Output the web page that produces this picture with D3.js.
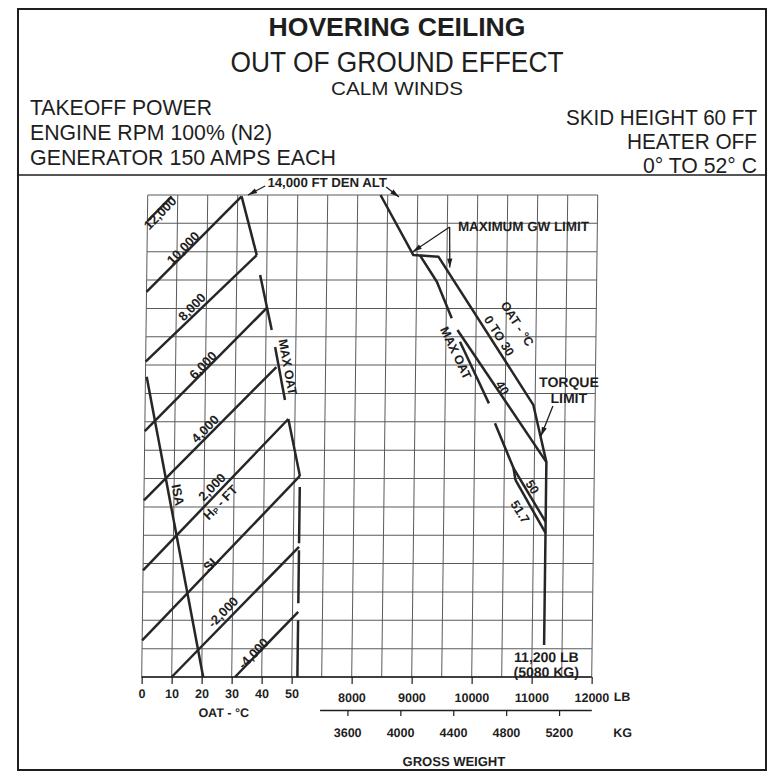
<!DOCTYPE html>
<html>
<head>
<meta charset="utf-8">
<script src="https://cdn.jsdelivr.net/npm/d3@7"></script>
<style>
  html, body { margin: 0; padding: 0; background: #fff; }
  svg { display: block; font-family: "Liberation Sans", Arial, sans-serif; }
</style>
</head>
<body>
<svg id="chart" width="769" height="777"></svg>
<script>
// header texts
const titleLines = ['HOVERING CEILING', 'OUT OF GROUND EFFECT', 'CALM WINDS']
const leftNotes = ['TAKEOFF POWER', 'ENGINE RPM 100% (N2)', 'GENERATOR 150 AMPS EACH']
const rightNotes = ['SKID HEIGHT 60 FT', 'HEATER OFF', '0° TO 52° C']

// axis ticks
const oatTicks = [0, 10, 20, 30, 40, 50]
const lbTicks = [8000, 9000, 10000, 11000, 12000]
const kgTicks = [3600, 4000, 4400, 4800, 5200]

// left panel, points are [OAT °C, density altitude ft]
const hpLabels = ['12,000', '10,000', '8,000', '6,000', '4,000', '2,000', 'SL', '-2,000', '-4,000']
const hpStart = [[0, 13080], [0, 10580], [0, 8120], [0, 5670], [0, 3230], [0, 760], [0, -1710], [10, -3000], [31.1, -3000]]
const hpEnd = [[8, 13950], [31.3, 13950], [36.6, 11880], [40.1, 10010], [43.6, 7930], [47.8, 6100], [51.9, 4090], [51.9, 1590], [51.9, -700]]
const hpLabelPos = [[4.2, 13365], [12, 12130], [15.2, 10050], [19.1, 8000], [20.1, 5750], [22.6, 3700], [22.8, 1020], [26.8, -710], [37.1, -2170]]
const isaLine = [[0.4, 7590], [20.5, -3000]]
// max OAT boundary, drawn broken as in the chart
const maxOatLeft = [
  [[31.3, 13950], [36.6, 11880]],
  [[37.8, 11180], [41.9, 9240]],
  [[43.1, 8640], [46.6, 6770]],
  [[47.8, 6100], [51.9, 4090]],
  [[51.9, 3700], [51.9, 1720]],
  [[51.9, 1470], [51.9, -400]],
  [[51.9, -1000], [51.9, -3000]]
]

// right panel, points are [gross weight lb, density altitude ft]
const oat0to30 = [[8380, 14000], [8940, 11880], [9360, 11820], [10970, 6600], [11200, 4580], [11200, -1870]]
const maxOatRight = [
  [[9050, 11870], [9337, 10940], [9593, 9650]],
  [[9735, 8825], [10230, 6650]],
  [[10335, 5950], [10653, 4370], [10688, 3950]]
]
const oat40 = [[9690, 9240], [11200, 4580]]
const oat50 = [[10653, 4370], [11200, 2470]]
const oat517 = [[10688, 3950], [11200, 2080]]

const svg = d3.select('#chart')
const ink = '#1e1e1e'

/** set up scales (grid is shared by both panels) */
const gridLeft = 141.7, gridRight = 591.7, gridTop = 195, gridBottom = 677

const oat = d3.scaleLinear().domain([0, 150]).range([gridLeft, gridRight])
const gw = d3.scaleLinear().domain([4500, 12000]).range([gridLeft, gridRight])
const da = d3.scaleLinear().domain([-3000, 14000]).range([gridBottom, gridTop])
const kgStart = gw.invert(320) / 2.20462
const kg = d3.scaleLinear().domain([kgStart, 12000 / 2.20462]).range([gw(kgStart * 2.20462), gw(12000)])

// frame
svg.append('rect')
  .attr('x', 18).attr('y', 9)
  .attr('width', 748).attr('height', 761)
  .style('fill', 'none').style('stroke', ink).style('stroke-width', 2)

svg.append('line')
  .attr('x1', 18).attr('x2', 766).attr('y1', 175).attr('y2', 175)
  .style('stroke', ink).style('stroke-width', 1.5)

// header
const titleStyle = [
  { y: 36, size: 25, weight: 'bold', len: 257 },
  { y: 72, size: 30, weight: 'normal', len: 333 },
  { y: 95, size: 19, weight: 'normal', len: 132 }
]
titleLines.forEach(function (t, i) {
  svg.append('text')
    .attr('x', 397).attr('y', titleStyle[i].y)
    .attr('text-anchor', 'middle')
    .attr('font-size', titleStyle[i].size)
    .attr('font-weight', titleStyle[i].weight)
    .attr('textLength', titleStyle[i].len)
    .attr('lengthAdjust', 'spacingAndGlyphs')
    .style('fill', ink)
    .text(t)
})

const leftLen = [182, 242, 306]
leftNotes.forEach(function (t, i) {
  svg.append('text')
    .attr('x', 30).attr('y', 115 + i * 25)
    .attr('font-size', 22)
    .attr('textLength', leftLen[i])
    .attr('lengthAdjust', 'spacingAndGlyphs')
    .style('fill', ink)
    .text(t)
})

const rightLen = [191, 130, 114]
rightNotes.forEach(function (t, i) {
  svg.append('text')
    .attr('x', 757 - rightLen[i]).attr('y', 125 + i * 24)
    .attr('font-size', 22)
    .attr('textLength', rightLen[i])
    .attr('lengthAdjust', 'spacingAndGlyphs')
    .style('fill', ink)
    .text(t)
})

// the scanned chart leans a little: shear the plot so its verticals match
const plot = svg.append('g')
  .attr('transform', 'translate(' + (gridBottom * 0.0125) + ',0) skewX(' + (-Math.atan(0.0125) * 180 / Math.PI) + ')')

// grid
const grid = plot.append('g').style('stroke', '#5a5a5a').style('stroke-width', 1)
grid.selectAll('.v').data(d3.range(4500, 12001, 500)).enter().append('line')
  .attr('x1', d => gw(d)).attr('x2', d => gw(d))
  .attr('y1', gridTop).attr('y2', gridBottom)
grid.selectAll('.h').data(d3.range(-3000, 14001, 1000)).enter().append('line')
  .attr('x1', gridLeft).attr('x2', gridRight)
  .attr('y1', d => da(d)).attr('y2', d => da(d))

// axes
const axisFont = function (g) {
  g.select('.domain').remove()
  g.selectAll('.tick line').style('stroke', ink).style('stroke-width', 1.2)
  g.selectAll('.tick text')
    .style('fill', ink).attr('font-size', 12.5).attr('font-weight', 'bold')
    .attr('font-family', '"Liberation Sans", Arial, sans-serif')
}

plot.append('line')
  .attr('x1', gridLeft).attr('x2', gridRight).attr('y1', gridBottom).attr('y2', gridBottom)
  .style('stroke', ink).style('stroke-width', 1.6)

plot.append('g')
  .attr('transform', 'translate(0,' + gridBottom + ')')
  .call(d3.axisBottom(oat).tickValues(oatTicks).tickSize(7).tickPadding(5))
  .call(axisFont)

plot.append('g')
  .attr('transform', 'translate(0,' + gridBottom + ')')
  .call(d3.axisBottom(gw).tickValues(lbTicks).tickSize(7).tickPadding(9).tickFormat(d3.format('d')))
  .call(axisFont)

const kgAxis = plot.append('g')
  .attr('transform', 'translate(0,710)')
  .call(d3.axisBottom(kg).tickValues(kgTicks).tickSize(6).tickSizeOuter(0).tickPadding(12).tickFormat(d3.format('d')))
kgAxis.select('.domain').style('stroke', ink).style('stroke-width', 1.4)
kgAxis.selectAll('.tick line').style('stroke', ink).style('stroke-width', 1.2)
kgAxis.selectAll('.tick text')
  .style('fill', ink).attr('font-size', 12.5).attr('font-weight', 'bold')
  .attr('font-family', '"Liberation Sans", Arial, sans-serif')

const boldText = function (txt, x, y, size, anchor) {
  return plot.append('text')
    .attr('x', x).attr('y', y)
    .attr('text-anchor', anchor || 'middle')
    .attr('dominant-baseline', 'central')
    .attr('font-size', size || 13)
    .attr('font-weight', 'bold')
    .style('fill', ink)
    .text(txt)
}

boldText('LB', 614, 697, 12.5, 'start')
boldText('KG', 614, 733, 12.5, 'start')
boldText('OAT - °C', oat(27.5), 713, 12.5)
boldText('GROSS WEIGHT', 455, 762, 13)

// curves
const lineL = d3.line().x(d => oat(d[0])).y(d => da(d[1]))
const lineR = d3.line().x(d => gw(d[0])).y(d => da(d[1]))

const curve = function (pts, gen) {
  plot.append('path')
    .attr('d', gen(pts))
    .style('fill', 'none')
    .style('stroke', '#262626')
    .style('stroke-width', 2.5)
    .style('stroke-linejoin', 'round')
}

hpStart.forEach(function (s, i) { curve([s, hpEnd[i]], lineL) })
curve(isaLine, lineL)
maxOatLeft.forEach(function (seg) { curve(seg, lineL) })

curve(oat0to30, lineR)
maxOatRight.forEach(function (seg) { curve(seg, lineR) })
curve(oat40, lineR)
curve(oat50, lineR)
curve(oat517, lineR)

// rotated labels
const rotText = function (txt, x, y, angle, size) {
  return plot.append('text')
    .attr('transform', 'translate(' + x + ',' + y + ') rotate(' + angle + ')')
    .attr('text-anchor', 'middle')
    .attr('dominant-baseline', 'central')
    .attr('font-size', size || 13)
    .attr('font-weight', 'bold')
    .style('fill', ink)
    .text(txt)
}

hpLabels.forEach(function (t, i) {
  rotText(t, oat(hpLabelPos[i][0]), da(hpLabelPos[i][1]), -46, 13)
})

const hp = rotText('', oat(25.4), da(3170), -46, 13)
hp.append('tspan').text('H')
hp.append('tspan').attr('font-size', 8).attr('dy', 3).text('P')
hp.append('tspan').attr('dy', -3).text(' - FT')

rotText('ISA', oat(11.3), da(3420), 78.6, 13)
rotText('MAX OAT', oat(47.3), da(7930), 78.8, 12.5)

rotText('OAT - °C', gw(10682), da(9450), 57, 12.5)
rotText('0 TO 30', gw(10383), da(9026), 57, 12.5)
rotText('MAX OAT', gw(9663), da(8427), 64, 12.5)
rotText('40', gw(10445), da(7192), 57, 12.5)
rotText('50', gw(10967), da(3700), 57, 12.5)
rotText('51.7', gw(10770), da(2818), 57, 12.5)

boldText('TORQUE', gw(11560), da(7404), 14)
boldText('LIMIT', gw(11560), da(6840), 14)
boldText('11,200 LB', gw(11242), da(-2286), 14)
boldText('(5080 KG)', gw(11242), da(-2815), 14)
boldText('MAXIMUM GW LIMIT', gw(9678), da(12906), 13.4, 'start')
boldText('14,000 FT DEN ALT', 321, 183, 13.2)

// arrows
const arrow = function (x1, y1, x2, y2) {
  plot.append('line')
    .attr('x1', x1).attr('y1', y1).attr('x2', x2).attr('y2', y2)
    .style('stroke', ink).style('stroke-width', 1.3)
  const a = Math.atan2(y2 - y1, x2 - x1)
  const len = 9, w = 2.6
  const bx = x2 - len * Math.cos(a), by = y2 - len * Math.sin(a)
  plot.append('path')
    .attr('d', 'M' + x2 + ',' + y2 +
      'L' + (bx + w * Math.sin(a)) + ',' + (by - w * Math.cos(a)) +
      'L' + (bx - w * Math.sin(a)) + ',' + (by + w * Math.cos(a)) + 'Z')
    .style('fill', ink)
}

arrow(259, 186, 242, 195)
arrow(380, 187, 393, 197)
arrow(444, 227, gw(8930), da(12000))
arrow(444, 227, gw(9550), da(11440))
arrow(549.5, 406, 538, 436)
</script>
</body>
</html>
